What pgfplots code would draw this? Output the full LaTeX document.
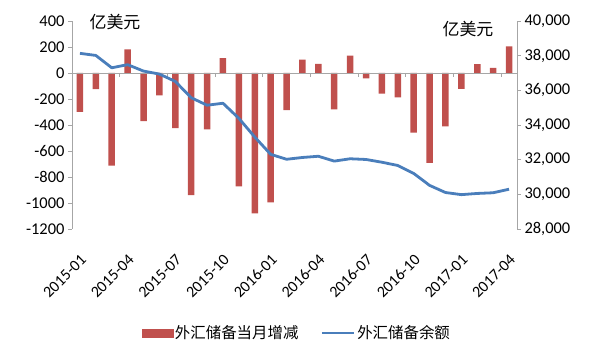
\documentclass[border=0pt]{standalone}
\usepackage{pgfplots}
\pgfplotsset{compat=1.18}
\usepackage{fontspec}
\setmainfont{Carlito}
\newfontfamily\cjk{Noto Sans CJK SC}
\definecolor{barred}{HTML}{C0504D}
\definecolor{lineblue}{HTML}{4A7EBB}
\definecolor{axgray}{HTML}{A6A6A6}
\begin{document}
\begin{tikzpicture}
\useasboundingbox (0,0) rectangle (600bp,360bp);
\begin{axis}[
  at={(72bp,131bp)}, anchor=south west,
  scale only axis, width=445bp, height=208bp,
  xmin=-0.5, xmax=27.5, ymin=-1200, ymax=400,
  axis y line*=left, axis x line*=bottom,
  x axis line style={draw=none},
  y axis line style={draw=axgray, line width=0.8bp},
  ytick={-1200,-1000,...,400},
  yticklabels={-1200,-1000,-800,-600,-400,-200,0,200,400},
  ytick style={draw=axgray, line width=0.8bp},
  tick align=outside, major tick length=4bp,
  xtick={0,3,...,27},
  xticklabels={2015-01,2015-04,2015-07,2015-10,2016-01,2016-04,2016-07,2016-10,2017-01,2017-04},
  x tick style={draw=none},
  xticklabel style={xshift=6bp, rotate=45, anchor=east, font=\fontsize{16}{18}\selectfont},
  xticklabel shift=22bp,
  yticklabel style={font=\fontsize{16.5}{18}\selectfont},
  ybar, bar width=6.5bp,
  clip=false,
]
\addplot[fill=barred, draw=none] coordinates {
(0,-299) (1,-124) (2,-713) (3,181) (4,-370) (5,-173) (6,-425) (7,-939)
(8,-433) (9,114) (10,-872) (11,-1079) (12,-995) (13,-286) (14,103) (15,71)
(16,-280) (17,134) (18,-41) (19,-159) (20,-188) (21,-458) (22,-691) (23,-411)
(24,-123) (25,69) (26,40) (27,204)};
\draw[axgray, line width=0.8bp] (axis cs:-0.5,0) -- (axis cs:27.5,0);
\pgfplotsinvokeforeach{2.5,5.5,8.5,11.5,14.5,17.5,20.5,23.5,26.5}{
  \draw[axgray, line width=0.8bp] (axis cs:#1,0) -- (axis cs:#1,-32);
}
\end{axis}
\begin{axis}[
  at={(72bp,131bp)}, anchor=south west,
  scale only axis, width=445bp, height=208bp,
  xmin=-0.5, xmax=27.5, ymin=28000, ymax=40000,
  axis x line=none, axis y line*=right,
  scaled y ticks=false,
  y axis line style={draw=axgray, line width=0.8bp},
  ytick={28000,30000,...,40000},
  yticklabels={{28,000},{30,000},{32,000},{34,000},{36,000},{38,000},{40,000}},
  ytick style={draw=axgray, line width=0.8bp},
  tick align=outside, major tick length=4bp,
  yticklabel style={font=\fontsize{16.5}{18}\selectfont},
  legend style={at={(0.505,-0.50)}, anchor=center, draw=none, fill=none,
    legend columns=2, font=\cjk\fontsize{15.5}{18}\selectfont,
    /tikz/every even column/.append style={column sep=20bp},
    inner sep=0pt},
  legend cell align=left,
  clip=false,
]
\addlegendimage{legend image code/.code={\fill[barred] (0bp,-4bp) rectangle (31bp,4bp);}}
\addlegendentry{外汇储备当月增减}
\addplot[lineblue, line width=2.8bp, line join=round,
  legend image code/.code={\draw[lineblue, line width=2.8bp] (0bp,0bp) -- (32bp,0bp);}] coordinates {
(0,38134) (1,38013) (2,37301) (3,37481) (4,37111) (5,36938) (6,36513) (7,35574)
(8,35141) (9,35255) (10,34383) (11,33304) (12,32309) (13,32023) (14,32126) (15,32197)
(16,31917) (17,32052) (18,32011) (19,31852) (20,31664) (21,31206) (22,30516) (23,30105)
(24,29982) (25,30051) (26,30091) (27,30295)};
\addlegendentry{外汇储备余额}
\end{axis}
\node[font=\cjk\fontsize{17}{19}\selectfont] at (115bp,338bp) {亿美元};
\node[font=\cjk\fontsize{17}{19}\selectfont] at (468bp,331bp) {亿美元};
\end{tikzpicture}
\end{document}
